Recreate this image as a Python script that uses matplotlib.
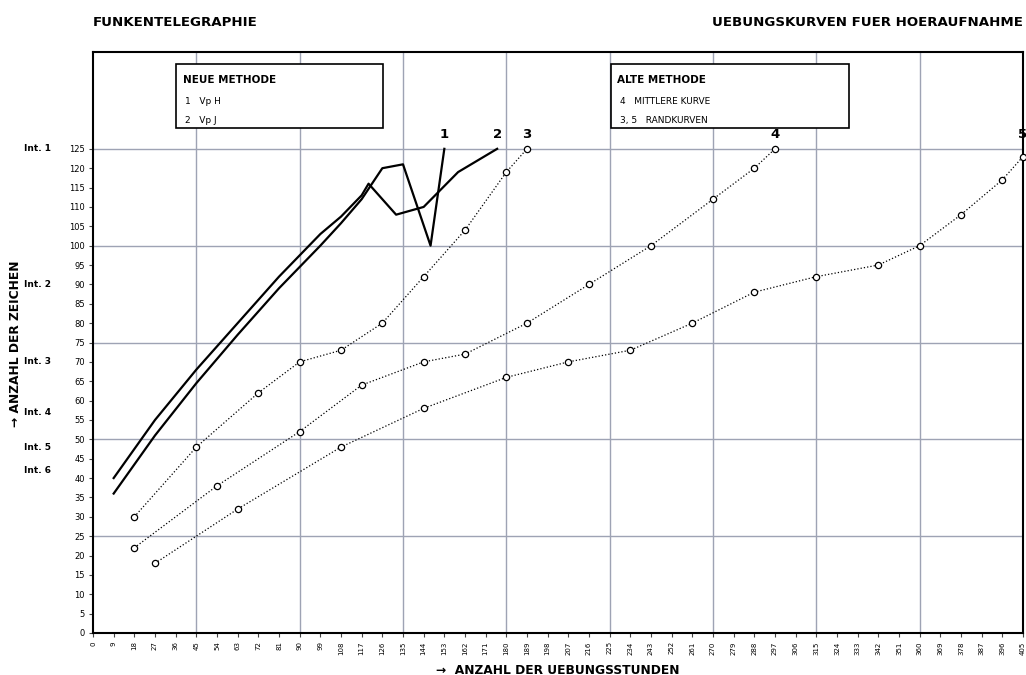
import matplotlib
matplotlib.use("Agg")
import matplotlib.pyplot as plt
from matplotlib.patches import Rectangle
from matplotlib.transforms import blended_transform_factory

# neue methode (solid curves)
c1_x = [9, 27, 45, 63, 81, 99, 108, 117, 126, 135, 147, 153]
c1_y = [36, 51, 64.5, 77, 89, 100, 105.8, 112, 120, 121, 100, 125]
c2_x = [9, 27, 45, 63, 81, 99, 108, 117, 120, 132, 144, 159, 176]
c2_y = [40, 55, 68, 80, 92, 103, 107.5, 113, 116, 108, 110, 119, 125]

# alte methode (dotted curves with markers)
c3_x = [18, 45, 72, 90, 108, 126, 144, 162, 180, 189]
c3_y = [30, 48, 62, 70, 73, 80, 92, 104, 119, 125]
c4_x = [18, 54, 90, 117, 144, 162, 189, 216, 243, 270, 288, 297]
c4_y = [22, 38, 52, 64, 70, 72, 80, 90, 100, 112, 120, 125]
c5_x = [27, 63, 108, 144, 180, 207, 234, 261, 288, 315, 342, 360, 378, 396, 405]
c5_y = [18, 32, 48, 58, 66, 70, 73, 80, 88, 92, 95, 100, 108, 117, 123]

curve_labels = ["1", "2", "3", "4", "5"]
label_x = [153, 176, 189, 297, 405]

int_labels = ["Int. 1", "Int. 2", "Int. 3", "Int. 4", "Int. 5", "Int. 6"]
int_y = [125, 90, 70, 57, 48, 42]

x_ticks = list(range(0, 406, 9))
y_ticks = list(range(0, 126, 5))

fig = plt.figure(figsize=(10.26, 6.75), dpi=100)
ax = fig.add_axes([93 / 1026, 42 / 675, 930 / 1026, 581 / 675])

grid_col = "#9ea3b4"
for gx in range(45, 405, 45):
    ax.axvline(gx, color=grid_col, lw=1, zorder=0)
for gy in range(25, 126, 25):
    ax.axhline(gy, color=grid_col, lw=1, zorder=0)

ax.plot(c1_x, c1_y, color="black", lw=1.6, zorder=3)
ax.plot(c2_x, c2_y, color="black", lw=1.6, zorder=3)
for xs, ys in [(c3_x, c3_y), (c4_x, c4_y), (c5_x, c5_y)]:
    ax.plot(xs, ys, color="black", lw=0.9, ls=":", marker="o", ms=4.5,
            mfc="white", mec="black", mew=0.9, zorder=3, clip_on=False)

for lab, lx in zip(curve_labels, label_x):
    ax.text(lx, 128.8, lab, ha="center", va="center", fontsize=9.5,
            fontweight="bold", clip_on=False, zorder=6)

ax.set_xlim(0, 405)
ax.set_ylim(0, 150)
ax.set_xticks(x_ticks)
ax.set_xticklabels([str(v) for v in x_ticks], rotation=90, fontsize=5)
ax.set_yticks(y_ticks)
ax.set_yticklabels([str(v) for v in y_ticks], fontsize=6)
ax.tick_params(axis="both", length=3, width=0.8, color="#444444", pad=3)
for sp in ax.spines.values():
    sp.set_linewidth(1.5)
    sp.set_color("black")

# legend boxes
ax.add_patch(Rectangle((36.1, 130.4), 90.2, 16.6, fill=True, fc="white",
                       ec="black", lw=1.2, zorder=4))
ax.text(39.2, 142.8, "NEUE METHODE", fontsize=7.5, fontweight="bold", va="center", zorder=5)
ax.text(40, 137.1, "1   Vp H", fontsize=6.5, va="center", zorder=5)
ax.text(40, 132.2, "2   Vp J", fontsize=6.5, va="center", zorder=5)

ax.add_patch(Rectangle((225.6, 130.4), 103.7, 16.6, fill=True, fc="white",
                       ec="black", lw=1.2, zorder=4))
ax.text(228.2, 142.8, "ALTE METHODE", fontsize=7.5, fontweight="bold", va="center", zorder=5)
ax.text(229.5, 137.1, "4   MITTLERE KURVE", fontsize=6.5, va="center", zorder=5)
ax.text(229.5, 132.2, "3, 5   RANDKURVEN", fontsize=6.5, va="center", zorder=5)

# intensity labels on the left
tr = blended_transform_factory(fig.transFigure, ax.transData)
for lab, iy in zip(int_labels, int_y):
    ax.text(24 / 1026, iy, lab, transform=tr, fontsize=6.5, fontweight="bold",
            va="center", ha="left")

fig.text(93 / 1026, 1 - 22 / 675, "FUNKENTELEGRAPHIE", fontsize=9.6,
         fontweight="bold", va="center", ha="left")
fig.text(1023 / 1026, 1 - 22 / 675, "UEBUNGSKURVEN FUER HOERAUFNAHME",
         fontsize=9.6, fontweight="bold", va="center", ha="right")
fig.text(558 / 1026, 1 - 670 / 675, "\u2192  ANZAHL DER UEBUNGSSTUNDEN",
         fontsize=8.8, fontweight="bold", va="center", ha="center")
fig.text(16 / 1026, 1 - 344 / 675, "\u2192 ANZAHL DER ZEICHEN", fontsize=8.8,
         fontweight="bold", va="center", ha="center", rotation=90)

fig.savefig("out.png", dpi=100)
